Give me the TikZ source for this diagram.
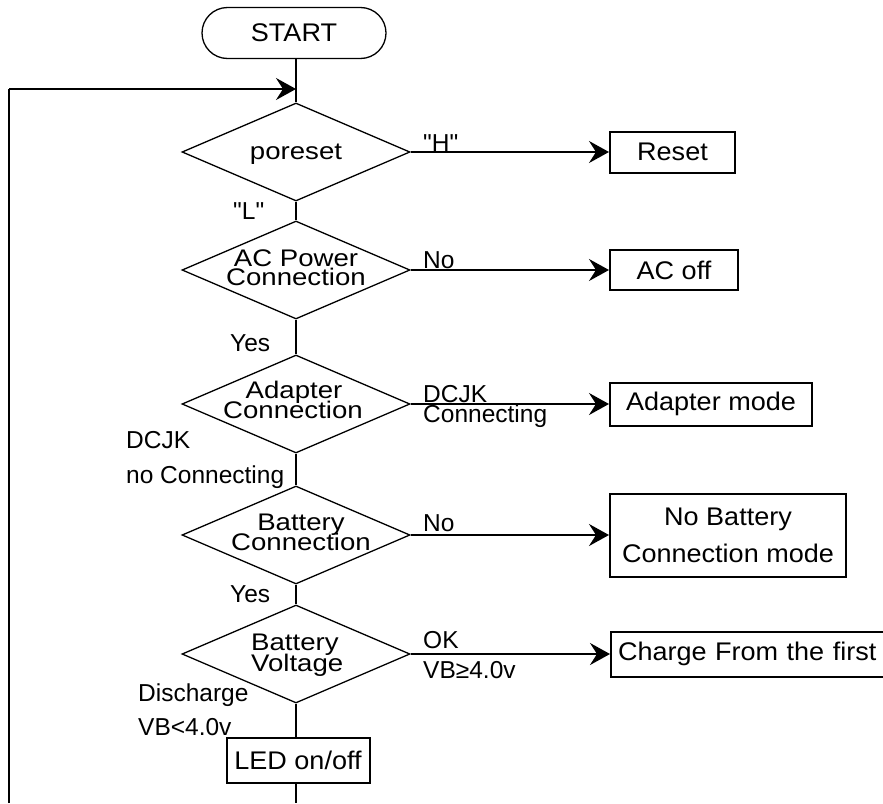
\documentclass[tikz,border=0pt]{standalone}
\usepackage{fontspec}
\setmainfont{Liberation Sans}
\newfontfamily\diafont{Liberation Sans}[FakeStretch=1.15]
\newfontfamily\boxfont{Liberation Sans}[FakeStretch=1.06]
\font\qfnt="Liberation Sans" at 24.5pt
\newcommand\sq{{\qfnt\char34}}
\usetikzlibrary{shapes.geometric,shapes.misc,arrows.meta}
\begin{document}
\begin{tikzpicture}[x=1pt,y=-1pt,
  dia/.style={diamond,draw,line width=1.3pt,minimum width=228pt,minimum height=98pt,inner sep=0pt},
  dtxt/.style={inner sep=0pt,font=\diafont\fontsize{24}{28}\selectfont},
  lbl/.style={inner sep=0pt,font=\fontsize{24.5}{29}\selectfont},
  box/.style={draw,line width=2pt,inner sep=0pt,align=center,font=\boxfont\fontsize{25.5}{37}\selectfont},
  conn/.style={line width=2pt},
  arr/.style={line width=2pt,-{Stealth[length=20pt,width=22pt,inset=7pt]}},
  thinline/.style={line width=1.3pt}]
\useasboundingbox (0,0) rectangle (883,803);

% start
\node[rounded rectangle,draw,line width=1.3pt,minimum width=184pt,minimum height=51pt,inner sep=0pt,
      font=\boxfont\fontsize{25.5}{30}\selectfont] (start) at (294,33) {START};

% decisions
\node[dia] (d1) at (296,152) {};
\node[dia] (d2) at (296,270) {};
\node[dia] (d3) at (296,404) {};
\node[dia] (d4) at (296,535) {};
\node[dia] (d5) at (296,654) {};

\node[dtxt,anchor=base] (t1) at (296,159) {poreset};
\node[dtxt,anchor=base] (t2a) at (296,266) {AC Power};
\node[dtxt,anchor=base] (t2b) at (296,285) {Connection};
\node[dtxt,anchor=base] (t3a) at (294,398) {Adapter};
\node[dtxt,anchor=base] (t3b) at (293,418) {Connection};
\node[dtxt,anchor=base] (t4a) at (301,530) {Battery};
\node[dtxt,anchor=base] (t4b) at (301,550) {Connection};
\node[dtxt,anchor=base west] (t5a) at (251,650) {Battery};
\node[dtxt,anchor=base west] (t5b) at (251,671) {Voltage};

% boxes
\node[box,minimum width=125pt,minimum height=41pt] (reset) at (672.5,152) {Reset};
\node[box,minimum width=128pt,minimum height=40pt] (acoff) at (674,270) {AC off};
\node[box,minimum width=202pt,minimum height=43pt] (adapter) at (711,404) {Adapter mode};
\node[box,minimum width=236pt,minimum height=83pt] (nobatt) at (728,535) {No Battery\\Connection mode};
\node[box,anchor=west,inner xsep=7pt,text width=270pt,align=left,minimum height=45pt] (charge) at (610,654) {Charge From the first};
\node[box,minimum width=143pt,minimum height=45pt] (led) at (298,760.5) {LED on/off};

% labels
\node[lbl,anchor=base west] (lH) at (423,151) {\sq H\sq};
\node[lbl,anchor=base west] (lL) at (233,219) {\sq L\sq};
\node[lbl,anchor=base west] (lNo1) at (423,268) {No};
\node[lbl,anchor=base west] (lYes1) at (230,351) {Yes};
\node[lbl,anchor=base west] (lDC1) at (423,402) {DCJK};
\node[lbl,anchor=base west] (lDC2) at (423,422) {Connecting};
\node[lbl,anchor=base west] (lDC3) at (126,448) {DCJK};
\node[lbl,anchor=base west] (lDC4) at (126,483) {no Connecting};
\node[lbl,anchor=base west] (lNo2) at (423,531) {No};
\node[lbl,anchor=base west] (lYes2) at (230,602) {Yes};
\node[lbl,anchor=base west] (lOK) at (423,648) {OK};
\node[lbl,anchor=base west] (lVB1) at (423,678) {VB≥4.0v};
\node[lbl,anchor=base west] (lDis) at (138,701) {Discharge};
\node[lbl,anchor=base west] (lVB2) at (138,735) {VB<4.0v};

% coordinates
\coordinate (join) at (296,89);
\coordinate (loopcorner) at (9,89);
\coordinate (loopbot) at (9,803);
\coordinate (ledbot) at (296,803);

% connectors
\draw[conn] (start.south -| d1.north) -- (d1.north);
\draw[thinline] (loopbot) -- (loopcorner);
\draw[arr] (loopcorner) -- (join);
\draw[arr] (d1.east) -- (reset.west);
\draw[conn] (d1.south) -- (d2.north);
\draw[arr] (d2.east) -- (acoff.west);
\draw[conn] (d2.south) -- (d3.north);
\draw[arr] (d3.east) -- (adapter.west);
\draw[conn] (d3.south) -- (d4.north);
\draw[arr] (d4.east) -- (nobatt.west);
\draw[conn] (d4.south) -- (d5.north);
\draw[arr] (d5.east) -- (charge.west);
\draw[conn] (d5.south) -- (d5.south |- led.north);
\draw[conn] (ledbot |- led.south) -- (ledbot);
\end{tikzpicture}
\end{document}
